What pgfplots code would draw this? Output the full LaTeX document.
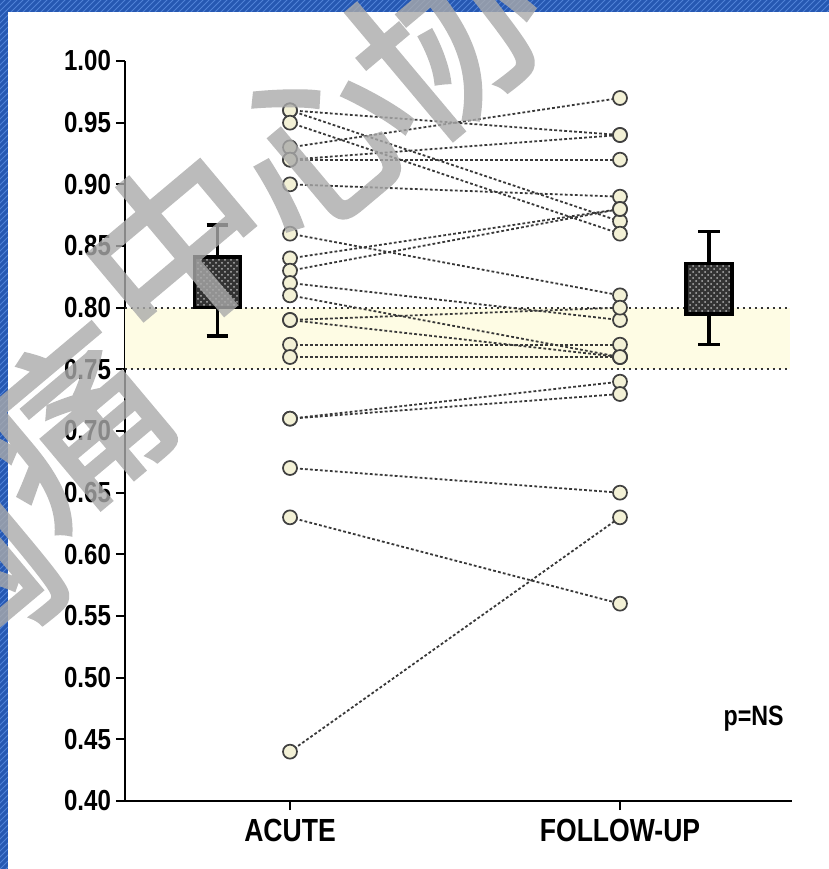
\documentclass[border=0pt]{standalone}
\usepackage{fontspec}
\setmainfont{Liberation Sans}
\newfontfamily\narrowfont[FakeStretch=0.83]{Liberation Sans}
\newfontfamily\cjk[AutoFakeBold=2.5]{Noto Sans CJK SC}
\usepackage{pgfplots}
\usepackage{pgfplotstable}
\pgfplotsset{compat=1.18}
\usetikzlibrary{patterns}
\definecolor{bandyellow}{RGB}{254,252,228}
\definecolor{markfill}{RGB}{243,241,214}
\definecolor{bgblue}{RGB}{38,88,178}
\definecolor{bgstripe}{RGB}{80,130,215}
\definecolor{wm}{RGB}{170,170,170}

% acute value, follow-up value
\pgfplotstableread{
a f
0.96 0.94
0.96 0.87
0.95 0.86
0.93 0.97
0.92 0.94
0.92 0.92
0.90 0.89
0.86 0.81
0.84 0.88
0.83 0.88
0.82 0.79
0.81 0.76
0.79 0.80
0.79 0.76
0.77 0.77
0.76 0.76
0.71 0.74
0.71 0.73
0.67 0.65
0.63 0.56
0.44 0.63
}\pairs

\begin{document}
\begin{tikzpicture}
% background frame
\fill[bgblue] (-62.5pt,-34pt) rectangle (352pt,400.5pt);
\fill[pattern=north east lines, pattern color=bgstripe] (-62.5pt,-34pt) rectangle (352pt,400.5pt);
\fill[white] (-58.5pt,-34pt) rectangle (352pt,394.5pt);

\begin{axis}[
  at={(0,0)}, anchor=origin,
  scale only axis,
  width=333.3pt, height=370pt,
  xmin=0.5, xmax=2.52,
  ymin=0.40, ymax=1.00,
  clip=false,
  axis x line=bottom,
  axis y line=left,
  axis line style={line width=1.1pt, -},
  xtick={1,2},
  xticklabels={ACUTE,FOLLOW-UP},
  xticklabel style={font=\narrowfont\bfseries\fontsize{16}{18}\selectfont, yshift=-1pt},
  ytick={0.40,0.45,0.50,0.55,0.60,0.65,0.70,0.75,0.80,0.85,0.90,0.95,1.00},
  yticklabel style={font=\narrowfont\bfseries\fontsize{14.5}{16}\selectfont, xshift=1pt,
    /pgf/number format/fixed, /pgf/number format/fixed zerofill,
    /pgf/number format/precision=2, /pgf/number format/assume math mode=true},
  tick align=outside,
  major tick length=4.5pt,
  tick style={line width=1.1pt, black},
]
% reference band
\addplot[fill=bandyellow, draw=none] coordinates {(0.5,0.75) (2.515,0.75) (2.515,0.80) (0.5,0.80)} -- cycle;
\addplot[black!80, line width=1.1pt, dash pattern=on 0.9pt off 2.1pt] coordinates {(0.5,0.80) (2.515,0.80)};
\addplot[black!80, line width=1.1pt, dash pattern=on 0.9pt off 2.1pt] coordinates {(0.5,0.75) (2.515,0.75)};

% paired lines
\pgfplotstablegetrowsof{\pairs}
\pgfmathtruncatemacro{\nrows}{\pgfplotsretval-1}
\pgfplotsforeachungrouped \i in {0,...,\nrows}{
  \pgfplotstablegetelem{\i}{a}\of{\pairs}\let\va\pgfplotsretval
  \pgfplotstablegetelem{\i}{f}\of{\pairs}\let\vf\pgfplotsretval
  \edef\tmp{\noexpand\addplot[black!78, line width=0.9pt, dash pattern=on 1.4pt off 1.1pt] coordinates {(1,\va) (2,\vf)};}
  \tmp
}
% markers
\addplot[only marks, mark=*, mark size=3.5pt, mark options={fill=markfill, draw=black!75, line width=0.85pt}]
  table[x expr=1, y=a] {\pairs};
\addplot[only marks, mark=*, mark size=3.5pt, mark options={fill=markfill, draw=black!75, line width=0.85pt}]
  table[x expr=2, y=f] {\pairs};

% summary bars (acute)
\addplot[black, line width=1.7pt] coordinates {(0.78,0.777) (0.78,0.867)};
\addplot[black, line width=1.7pt] coordinates {(0.747,0.867) (0.813,0.867)};
\addplot[black, line width=1.7pt] coordinates {(0.747,0.777) (0.813,0.777)};
\addplot[draw=black, line width=1.7pt, fill=black!80, postaction={pattern=crosshatch dots, pattern color=white!70!black}]
  coordinates {(0.71,0.800) (0.85,0.800) (0.85,0.841) (0.71,0.841)} -- cycle;
% summary bars (follow-up)
\addplot[black, line width=1.7pt] coordinates {(2.27,0.770) (2.27,0.862)};
\addplot[black, line width=1.7pt] coordinates {(2.237,0.862) (2.303,0.862)};
\addplot[black, line width=1.7pt] coordinates {(2.237,0.770) (2.303,0.770)};
\addplot[draw=black, line width=1.7pt, fill=black!80, postaction={pattern=crosshatch dots, pattern color=white!70!black}]
  coordinates {(2.20,0.795) (2.34,0.795) (2.34,0.836) (2.20,0.836)} -- cycle;

% note
\node[font=\narrowfont\bfseries\fontsize{14}{16}\selectfont] at (axis cs:2.405,0.467) {p=NS};
\end{axis}

% watermark
\begin{scope}[transparency group, opacity=0.8]
\clip (-62.5pt,-34pt) rectangle (352pt,400.5pt);
\foreach \c/\wx/\wy in {胸/-82/108, 痛/-27/188, 中/26/277.5, 心/97.5/330, 协/161/382}{
  \node[text=wm, rotate=40, font=\cjk\bfseries\fontsize{90}{90}\selectfont, inner sep=0pt]
    at (\wx pt,\wy pt) {\c};
}
\end{scope}
\pgfresetboundingbox
\path (-62.5pt,-34pt) rectangle (352pt,400.5pt);
\end{tikzpicture}
\end{document}
